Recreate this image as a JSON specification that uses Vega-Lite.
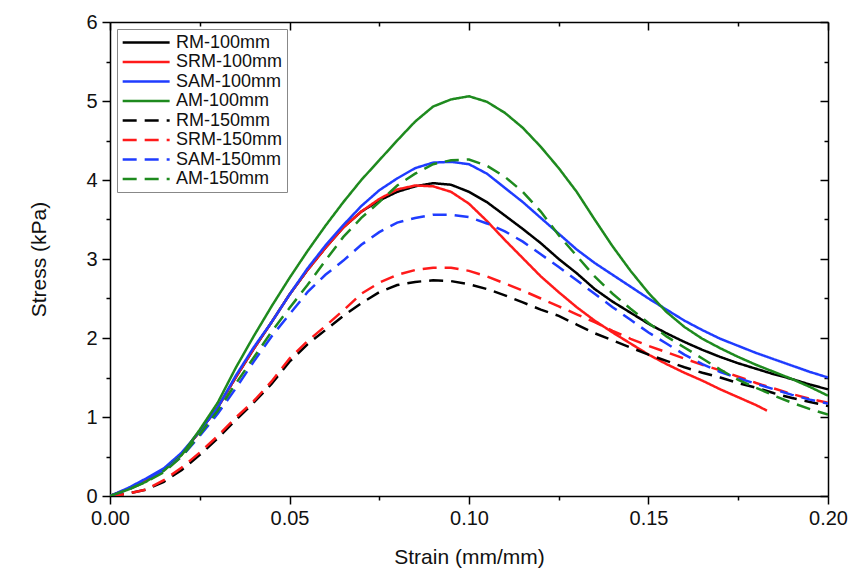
{
  "$schema": "https://vega.github.io/schema/vega-lite/v6.json",
  "width": 718,
  "height": 474,
  "autosize": {"type": "none"},
  "padding": {"left": 110, "top": 22, "right": 31, "bottom": 79},
  "background": "white",
  "config": {
    "font": "Liberation Sans",
    "view": {"stroke": null},
    "axis": {"grid": false, "domainColor": "black", "domainWidth": 1.5, "labelColor": "#111", "titleColor": "#111", "labelFont": "Liberation Sans", "titleFont": "Liberation Sans", "titleFontWeight": "normal"}
  },
  "data": {"values": [
    {"series":"RM-100mm","strain":0,"stress":0},{"series":"RM-100mm","strain":0.005,"stress":0.09},{"series":"RM-100mm","strain":0.01,"stress":0.2},{"series":"RM-100mm","strain":0.015,"stress":0.33},{"series":"RM-100mm","strain":0.02,"stress":0.53},{"series":"RM-100mm","strain":0.025,"stress":0.82},{"series":"RM-100mm","strain":0.03,"stress":1.12},{"series":"RM-100mm","strain":0.035,"stress":1.5},{"series":"RM-100mm","strain":0.04,"stress":1.86},{"series":"RM-100mm","strain":0.045,"stress":2.2},{"series":"RM-100mm","strain":0.05,"stress":2.55},{"series":"RM-100mm","strain":0.055,"stress":2.86},{"series":"RM-100mm","strain":0.06,"stress":3.14},{"series":"RM-100mm","strain":0.065,"stress":3.4},{"series":"RM-100mm","strain":0.07,"stress":3.6},{"series":"RM-100mm","strain":0.075,"stress":3.74},{"series":"RM-100mm","strain":0.08,"stress":3.85},{"series":"RM-100mm","strain":0.085,"stress":3.92},{"series":"RM-100mm","strain":0.09,"stress":3.96},{"series":"RM-100mm","strain":0.095,"stress":3.94},{"series":"RM-100mm","strain":0.1,"stress":3.85},{"series":"RM-100mm","strain":0.105,"stress":3.72},{"series":"RM-100mm","strain":0.11,"stress":3.55},{"series":"RM-100mm","strain":0.115,"stress":3.38},{"series":"RM-100mm","strain":0.12,"stress":3.2},{"series":"RM-100mm","strain":0.125,"stress":3.0},{"series":"RM-100mm","strain":0.13,"stress":2.82},{"series":"RM-100mm","strain":0.135,"stress":2.62},{"series":"RM-100mm","strain":0.14,"stress":2.46},{"series":"RM-100mm","strain":0.145,"stress":2.32},{"series":"RM-100mm","strain":0.15,"stress":2.18},{"series":"RM-100mm","strain":0.155,"stress":2.06},{"series":"RM-100mm","strain":0.16,"stress":1.95},{"series":"RM-100mm","strain":0.165,"stress":1.85},{"series":"RM-100mm","strain":0.17,"stress":1.76},{"series":"RM-100mm","strain":0.175,"stress":1.68},{"series":"RM-100mm","strain":0.18,"stress":1.61},{"series":"RM-100mm","strain":0.185,"stress":1.54},{"series":"RM-100mm","strain":0.19,"stress":1.48},{"series":"RM-100mm","strain":0.195,"stress":1.41},{"series":"RM-100mm","strain":0.2,"stress":1.35},

    {"series":"SRM-100mm","strain":0,"stress":0},{"series":"SRM-100mm","strain":0.005,"stress":0.09},{"series":"SRM-100mm","strain":0.01,"stress":0.2},{"series":"SRM-100mm","strain":0.015,"stress":0.33},{"series":"SRM-100mm","strain":0.02,"stress":0.53},{"series":"SRM-100mm","strain":0.025,"stress":0.82},{"series":"SRM-100mm","strain":0.03,"stress":1.12},{"series":"SRM-100mm","strain":0.035,"stress":1.5},{"series":"SRM-100mm","strain":0.04,"stress":1.86},{"series":"SRM-100mm","strain":0.045,"stress":2.2},{"series":"SRM-100mm","strain":0.05,"stress":2.55},{"series":"SRM-100mm","strain":0.055,"stress":2.86},{"series":"SRM-100mm","strain":0.06,"stress":3.14},{"series":"SRM-100mm","strain":0.065,"stress":3.4},{"series":"SRM-100mm","strain":0.07,"stress":3.6},{"series":"SRM-100mm","strain":0.075,"stress":3.76},{"series":"SRM-100mm","strain":0.08,"stress":3.88},{"series":"SRM-100mm","strain":0.085,"stress":3.93},{"series":"SRM-100mm","strain":0.09,"stress":3.92},{"series":"SRM-100mm","strain":0.095,"stress":3.85},{"series":"SRM-100mm","strain":0.1,"stress":3.7},{"series":"SRM-100mm","strain":0.105,"stress":3.48},{"series":"SRM-100mm","strain":0.11,"stress":3.24},{"series":"SRM-100mm","strain":0.115,"stress":3.01},{"series":"SRM-100mm","strain":0.12,"stress":2.78},{"series":"SRM-100mm","strain":0.125,"stress":2.58},{"series":"SRM-100mm","strain":0.13,"stress":2.39},{"series":"SRM-100mm","strain":0.135,"stress":2.22},{"series":"SRM-100mm","strain":0.14,"stress":2.07},{"series":"SRM-100mm","strain":0.145,"stress":1.93},{"series":"SRM-100mm","strain":0.15,"stress":1.79},{"series":"SRM-100mm","strain":0.155,"stress":1.67},{"series":"SRM-100mm","strain":0.16,"stress":1.56},{"series":"SRM-100mm","strain":0.165,"stress":1.46},{"series":"SRM-100mm","strain":0.17,"stress":1.35},{"series":"SRM-100mm","strain":0.175,"stress":1.25},{"series":"SRM-100mm","strain":0.18,"stress":1.15},{"series":"SRM-100mm","strain":0.183,"stress":1.08},

    {"series":"SAM-100mm","strain":0,"stress":0},{"series":"SAM-100mm","strain":0.005,"stress":0.1},{"series":"SAM-100mm","strain":0.01,"stress":0.22},{"series":"SAM-100mm","strain":0.015,"stress":0.35},{"series":"SAM-100mm","strain":0.02,"stress":0.55},{"series":"SAM-100mm","strain":0.025,"stress":0.82},{"series":"SAM-100mm","strain":0.03,"stress":1.12},{"series":"SAM-100mm","strain":0.035,"stress":1.52},{"series":"SAM-100mm","strain":0.04,"stress":1.88},{"series":"SAM-100mm","strain":0.045,"stress":2.2},{"series":"SAM-100mm","strain":0.05,"stress":2.55},{"series":"SAM-100mm","strain":0.055,"stress":2.88},{"series":"SAM-100mm","strain":0.06,"stress":3.17},{"series":"SAM-100mm","strain":0.065,"stress":3.43},{"series":"SAM-100mm","strain":0.07,"stress":3.67},{"series":"SAM-100mm","strain":0.075,"stress":3.87},{"series":"SAM-100mm","strain":0.08,"stress":4.02},{"series":"SAM-100mm","strain":0.085,"stress":4.15},{"series":"SAM-100mm","strain":0.09,"stress":4.22},{"series":"SAM-100mm","strain":0.095,"stress":4.23},{"series":"SAM-100mm","strain":0.1,"stress":4.2},{"series":"SAM-100mm","strain":0.105,"stress":4.08},{"series":"SAM-100mm","strain":0.11,"stress":3.9},{"series":"SAM-100mm","strain":0.115,"stress":3.72},{"series":"SAM-100mm","strain":0.12,"stress":3.52},{"series":"SAM-100mm","strain":0.125,"stress":3.32},{"series":"SAM-100mm","strain":0.13,"stress":3.12},{"series":"SAM-100mm","strain":0.135,"stress":2.95},{"series":"SAM-100mm","strain":0.14,"stress":2.8},{"series":"SAM-100mm","strain":0.145,"stress":2.65},{"series":"SAM-100mm","strain":0.15,"stress":2.5},{"series":"SAM-100mm","strain":0.155,"stress":2.36},{"series":"SAM-100mm","strain":0.16,"stress":2.22},{"series":"SAM-100mm","strain":0.165,"stress":2.1},{"series":"SAM-100mm","strain":0.17,"stress":1.99},{"series":"SAM-100mm","strain":0.175,"stress":1.9},{"series":"SAM-100mm","strain":0.18,"stress":1.81},{"series":"SAM-100mm","strain":0.185,"stress":1.73},{"series":"SAM-100mm","strain":0.19,"stress":1.65},{"series":"SAM-100mm","strain":0.195,"stress":1.57},{"series":"SAM-100mm","strain":0.2,"stress":1.5},

    {"series":"AM-100mm","strain":0,"stress":0},{"series":"AM-100mm","strain":0.005,"stress":0.08},{"series":"AM-100mm","strain":0.01,"stress":0.18},{"series":"AM-100mm","strain":0.015,"stress":0.32},{"series":"AM-100mm","strain":0.02,"stress":0.52},{"series":"AM-100mm","strain":0.025,"stress":0.84},{"series":"AM-100mm","strain":0.03,"stress":1.18},{"series":"AM-100mm","strain":0.035,"stress":1.62},{"series":"AM-100mm","strain":0.04,"stress":2.02},{"series":"AM-100mm","strain":0.045,"stress":2.4},{"series":"AM-100mm","strain":0.05,"stress":2.76},{"series":"AM-100mm","strain":0.055,"stress":3.1},{"series":"AM-100mm","strain":0.06,"stress":3.42},{"series":"AM-100mm","strain":0.065,"stress":3.72},{"series":"AM-100mm","strain":0.07,"stress":4.0},{"series":"AM-100mm","strain":0.075,"stress":4.25},{"series":"AM-100mm","strain":0.08,"stress":4.5},{"series":"AM-100mm","strain":0.085,"stress":4.74},{"series":"AM-100mm","strain":0.09,"stress":4.93},{"series":"AM-100mm","strain":0.095,"stress":5.02},{"series":"AM-100mm","strain":0.1,"stress":5.06},{"series":"AM-100mm","strain":0.105,"stress":4.99},{"series":"AM-100mm","strain":0.11,"stress":4.85},{"series":"AM-100mm","strain":0.115,"stress":4.66},{"series":"AM-100mm","strain":0.12,"stress":4.42},{"series":"AM-100mm","strain":0.125,"stress":4.15},{"series":"AM-100mm","strain":0.13,"stress":3.85},{"series":"AM-100mm","strain":0.135,"stress":3.5},{"series":"AM-100mm","strain":0.14,"stress":3.16},{"series":"AM-100mm","strain":0.145,"stress":2.85},{"series":"AM-100mm","strain":0.15,"stress":2.57},{"series":"AM-100mm","strain":0.155,"stress":2.33},{"series":"AM-100mm","strain":0.16,"stress":2.14},{"series":"AM-100mm","strain":0.165,"stress":1.99},{"series":"AM-100mm","strain":0.17,"stress":1.87},{"series":"AM-100mm","strain":0.175,"stress":1.76},{"series":"AM-100mm","strain":0.18,"stress":1.66},{"series":"AM-100mm","strain":0.185,"stress":1.57},{"series":"AM-100mm","strain":0.19,"stress":1.48},{"series":"AM-100mm","strain":0.195,"stress":1.38},{"series":"AM-100mm","strain":0.2,"stress":1.27},

    {"series":"RM-150mm","strain":0,"stress":0},{"series":"RM-150mm","strain":0.005,"stress":0.03},{"series":"RM-150mm","strain":0.01,"stress":0.08},{"series":"RM-150mm","strain":0.015,"stress":0.18},{"series":"RM-150mm","strain":0.02,"stress":0.33},{"series":"RM-150mm","strain":0.025,"stress":0.52},{"series":"RM-150mm","strain":0.03,"stress":0.73},{"series":"RM-150mm","strain":0.035,"stress":0.96},{"series":"RM-150mm","strain":0.04,"stress":1.18},{"series":"RM-150mm","strain":0.045,"stress":1.42},{"series":"RM-150mm","strain":0.05,"stress":1.7},{"series":"RM-150mm","strain":0.055,"stress":1.92},{"series":"RM-150mm","strain":0.06,"stress":2.1},{"series":"RM-150mm","strain":0.065,"stress":2.28},{"series":"RM-150mm","strain":0.07,"stress":2.44},{"series":"RM-150mm","strain":0.075,"stress":2.58},{"series":"RM-150mm","strain":0.08,"stress":2.67},{"series":"RM-150mm","strain":0.085,"stress":2.71},{"series":"RM-150mm","strain":0.09,"stress":2.73},{"series":"RM-150mm","strain":0.095,"stress":2.72},{"series":"RM-150mm","strain":0.1,"stress":2.68},{"series":"RM-150mm","strain":0.105,"stress":2.62},{"series":"RM-150mm","strain":0.11,"stress":2.54},{"series":"RM-150mm","strain":0.115,"stress":2.45},{"series":"RM-150mm","strain":0.12,"stress":2.36},{"series":"RM-150mm","strain":0.125,"stress":2.28},{"series":"RM-150mm","strain":0.13,"stress":2.17},{"series":"RM-150mm","strain":0.135,"stress":2.06},{"series":"RM-150mm","strain":0.14,"stress":1.97},{"series":"RM-150mm","strain":0.145,"stress":1.88},{"series":"RM-150mm","strain":0.15,"stress":1.79},{"series":"RM-150mm","strain":0.155,"stress":1.71},{"series":"RM-150mm","strain":0.16,"stress":1.63},{"series":"RM-150mm","strain":0.165,"stress":1.56},{"series":"RM-150mm","strain":0.17,"stress":1.5},{"series":"RM-150mm","strain":0.175,"stress":1.43},{"series":"RM-150mm","strain":0.18,"stress":1.37},{"series":"RM-150mm","strain":0.185,"stress":1.3},{"series":"RM-150mm","strain":0.19,"stress":1.24},{"series":"RM-150mm","strain":0.195,"stress":1.19},{"series":"RM-150mm","strain":0.2,"stress":1.14},

    {"series":"SRM-150mm","strain":0,"stress":0},{"series":"SRM-150mm","strain":0.005,"stress":0.03},{"series":"SRM-150mm","strain":0.01,"stress":0.08},{"series":"SRM-150mm","strain":0.015,"stress":0.2},{"series":"SRM-150mm","strain":0.02,"stress":0.36},{"series":"SRM-150mm","strain":0.025,"stress":0.55},{"series":"SRM-150mm","strain":0.03,"stress":0.76},{"series":"SRM-150mm","strain":0.035,"stress":0.99},{"series":"SRM-150mm","strain":0.04,"stress":1.2},{"series":"SRM-150mm","strain":0.045,"stress":1.45},{"series":"SRM-150mm","strain":0.05,"stress":1.74},{"series":"SRM-150mm","strain":0.055,"stress":1.96},{"series":"SRM-150mm","strain":0.06,"stress":2.15},{"series":"SRM-150mm","strain":0.065,"stress":2.35},{"series":"SRM-150mm","strain":0.07,"stress":2.56},{"series":"SRM-150mm","strain":0.075,"stress":2.7},{"series":"SRM-150mm","strain":0.08,"stress":2.8},{"series":"SRM-150mm","strain":0.085,"stress":2.86},{"series":"SRM-150mm","strain":0.09,"stress":2.89},{"series":"SRM-150mm","strain":0.095,"stress":2.89},{"series":"SRM-150mm","strain":0.1,"stress":2.85},{"series":"SRM-150mm","strain":0.105,"stress":2.78},{"series":"SRM-150mm","strain":0.11,"stress":2.69},{"series":"SRM-150mm","strain":0.115,"stress":2.6},{"series":"SRM-150mm","strain":0.12,"stress":2.5},{"series":"SRM-150mm","strain":0.125,"stress":2.4},{"series":"SRM-150mm","strain":0.13,"stress":2.3},{"series":"SRM-150mm","strain":0.135,"stress":2.2},{"series":"SRM-150mm","strain":0.14,"stress":2.09},{"series":"SRM-150mm","strain":0.145,"stress":1.99},{"series":"SRM-150mm","strain":0.15,"stress":1.9},{"series":"SRM-150mm","strain":0.155,"stress":1.82},{"series":"SRM-150mm","strain":0.16,"stress":1.74},{"series":"SRM-150mm","strain":0.165,"stress":1.66},{"series":"SRM-150mm","strain":0.17,"stress":1.59},{"series":"SRM-150mm","strain":0.175,"stress":1.51},{"series":"SRM-150mm","strain":0.18,"stress":1.43},{"series":"SRM-150mm","strain":0.185,"stress":1.36},{"series":"SRM-150mm","strain":0.19,"stress":1.29},{"series":"SRM-150mm","strain":0.195,"stress":1.23},{"series":"SRM-150mm","strain":0.2,"stress":1.18},

    {"series":"SAM-150mm","strain":0,"stress":0},{"series":"SAM-150mm","strain":0.005,"stress":0.08},{"series":"SAM-150mm","strain":0.01,"stress":0.2},{"series":"SAM-150mm","strain":0.015,"stress":0.32},{"series":"SAM-150mm","strain":0.02,"stress":0.5},{"series":"SAM-150mm","strain":0.025,"stress":0.76},{"series":"SAM-150mm","strain":0.03,"stress":1.04},{"series":"SAM-150mm","strain":0.035,"stress":1.36},{"series":"SAM-150mm","strain":0.04,"stress":1.7},{"series":"SAM-150mm","strain":0.045,"stress":2.02},{"series":"SAM-150mm","strain":0.05,"stress":2.3},{"series":"SAM-150mm","strain":0.055,"stress":2.58},{"series":"SAM-150mm","strain":0.06,"stress":2.8},{"series":"SAM-150mm","strain":0.065,"stress":2.98},{"series":"SAM-150mm","strain":0.07,"stress":3.18},{"series":"SAM-150mm","strain":0.075,"stress":3.34},{"series":"SAM-150mm","strain":0.08,"stress":3.46},{"series":"SAM-150mm","strain":0.085,"stress":3.52},{"series":"SAM-150mm","strain":0.09,"stress":3.56},{"series":"SAM-150mm","strain":0.095,"stress":3.56},{"series":"SAM-150mm","strain":0.1,"stress":3.53},{"series":"SAM-150mm","strain":0.105,"stress":3.45},{"series":"SAM-150mm","strain":0.11,"stress":3.35},{"series":"SAM-150mm","strain":0.115,"stress":3.22},{"series":"SAM-150mm","strain":0.12,"stress":3.06},{"series":"SAM-150mm","strain":0.125,"stress":2.9},{"series":"SAM-150mm","strain":0.13,"stress":2.73},{"series":"SAM-150mm","strain":0.135,"stress":2.56},{"series":"SAM-150mm","strain":0.14,"stress":2.39},{"series":"SAM-150mm","strain":0.145,"stress":2.23},{"series":"SAM-150mm","strain":0.15,"stress":2.07},{"series":"SAM-150mm","strain":0.155,"stress":1.93},{"series":"SAM-150mm","strain":0.16,"stress":1.79},{"series":"SAM-150mm","strain":0.165,"stress":1.67},{"series":"SAM-150mm","strain":0.17,"stress":1.57},{"series":"SAM-150mm","strain":0.175,"stress":1.49},{"series":"SAM-150mm","strain":0.18,"stress":1.42},{"series":"SAM-150mm","strain":0.185,"stress":1.35},{"series":"SAM-150mm","strain":0.19,"stress":1.28},{"series":"SAM-150mm","strain":0.195,"stress":1.22},{"series":"SAM-150mm","strain":0.2,"stress":1.17},

    {"series":"AM-150mm","strain":0,"stress":0},{"series":"AM-150mm","strain":0.005,"stress":0.08},{"series":"AM-150mm","strain":0.01,"stress":0.18},{"series":"AM-150mm","strain":0.015,"stress":0.3},{"series":"AM-150mm","strain":0.02,"stress":0.5},{"series":"AM-150mm","strain":0.025,"stress":0.78},{"series":"AM-150mm","strain":0.03,"stress":1.08},{"series":"AM-150mm","strain":0.035,"stress":1.42},{"series":"AM-150mm","strain":0.04,"stress":1.75},{"series":"AM-150mm","strain":0.045,"stress":2.08},{"series":"AM-150mm","strain":0.05,"stress":2.38},{"series":"AM-150mm","strain":0.055,"stress":2.67},{"series":"AM-150mm","strain":0.06,"stress":2.98},{"series":"AM-150mm","strain":0.065,"stress":3.28},{"series":"AM-150mm","strain":0.07,"stress":3.52},{"series":"AM-150mm","strain":0.075,"stress":3.72},{"series":"AM-150mm","strain":0.08,"stress":3.93},{"series":"AM-150mm","strain":0.085,"stress":4.08},{"series":"AM-150mm","strain":0.09,"stress":4.2},{"series":"AM-150mm","strain":0.095,"stress":4.25},{"series":"AM-150mm","strain":0.1,"stress":4.26},{"series":"AM-150mm","strain":0.105,"stress":4.18},{"series":"AM-150mm","strain":0.11,"stress":4.04},{"series":"AM-150mm","strain":0.115,"stress":3.85},{"series":"AM-150mm","strain":0.12,"stress":3.6},{"series":"AM-150mm","strain":0.125,"stress":3.3},{"series":"AM-150mm","strain":0.13,"stress":3.04},{"series":"AM-150mm","strain":0.135,"stress":2.78},{"series":"AM-150mm","strain":0.14,"stress":2.56},{"series":"AM-150mm","strain":0.145,"stress":2.37},{"series":"AM-150mm","strain":0.15,"stress":2.19},{"series":"AM-150mm","strain":0.155,"stress":2.02},{"series":"AM-150mm","strain":0.16,"stress":1.88},{"series":"AM-150mm","strain":0.165,"stress":1.74},{"series":"AM-150mm","strain":0.17,"stress":1.6},{"series":"AM-150mm","strain":0.175,"stress":1.47},{"series":"AM-150mm","strain":0.18,"stress":1.37},{"series":"AM-150mm","strain":0.185,"stress":1.27},{"series":"AM-150mm","strain":0.19,"stress":1.18},{"series":"AM-150mm","strain":0.195,"stress":1.1},{"series":"AM-150mm","strain":0.2,"stress":1.03}
  ]},
  "resolve": {"axis": {"x": "independent", "y": "independent"}},
  "layer": [
    {
      "mark": {"type": "line", "strokeWidth": 2.5, "strokeCap": "butt", "clip": true},
      "encoding": {
        "x": {"field": "strain", "type": "quantitative",
          "scale": {"domain": [0, 0.2], "nice": false, "zero": false},
          "axis": {"orient": "bottom", "title": "Strain (mm/mm)", "titleFontSize": 21, "titlePadding": 18,
            "values": [0, 0.05, 0.1, 0.15, 0.2], "format": ".2f", "ticks": true, "tickColor": "#000000", "tickWidth": 1.5,
            "labelFontSize": 20, "labelPadding": 4, "labelFlush": false, "tickSize": 8}},
        "y": {"field": "stress", "type": "quantitative",
          "scale": {"domain": [0, 6], "nice": false},
          "axis": {"orient": "left", "title": "Stress (kPa)", "titleFontSize": 21, "titlePadding": 36,
            "values": [0, 1, 2, 3, 4, 5, 6], "format": "d", "ticks": true, "tickColor": "#000000", "tickWidth": 1.5,
            "labelFontSize": 20, "labelPadding": 5, "labelFlush": false, "tickSize": 8}},
        "color": {"field": "series", "type": "nominal",
          "scale": {"domain": ["RM-100mm", "SRM-100mm", "SAM-100mm", "AM-100mm", "RM-150mm", "SRM-150mm", "SAM-150mm", "AM-150mm"],
            "range": ["#000000", "#ff1a1a", "#1f3cff", "#1e8a1e", "#000000", "#ff1a1a", "#1f3cff", "#1e8a1e"]},
          "legend": {"title": null, "orient": "top-left", "offset": 7, "symbolType": "M-1,0H5", "symbolSize": 245, "symbolStrokeWidth": 2.5,
            "labelFontSize": 18, "labelColor": "#111", "labelOffset": 36, "rowPadding": 0.5, "strokeColor": "#888", "fillColor": "white", "padding": 4}},
        "strokeDash": {"field": "series", "type": "nominal",
          "scale": {"domain": ["RM-100mm", "SRM-100mm", "SAM-100mm", "AM-100mm", "RM-150mm", "SRM-150mm", "SAM-150mm", "AM-150mm"],
            "range": [[1, 0], [1, 0], [1, 0], [1, 0], [14, 8], [14, 8], [14, 8], [14, 8]]},
          "legend": {"title": null}}
      }
    },
    {
      "mark": {"type": "point", "opacity": 0},
      "encoding": {
        "x": {"field": "strain", "type": "quantitative",
          "axis": {"orient": "top", "title": null, "labels": false, "values": [0, 0.05, 0.1, 0.15, 0.2], "ticks": true, "tickColor": "#000000", "tickWidth": 1.5, "tickSize": -8}},
        "y": {"field": "stress", "type": "quantitative",
          "axis": {"orient": "right", "title": null, "labels": false, "values": [0, 1, 2, 3, 4, 5, 6], "ticks": true, "tickColor": "#000000", "tickWidth": 1.5, "tickSize": -8}}
      }
    },
    {
      "mark": {"type": "point", "opacity": 0},
      "encoding": {
        "x": {"field": "strain", "type": "quantitative",
          "axis": {"orient": "bottom", "title": null, "labels": false, "domain": false, "values": [0.025, 0.075, 0.125, 0.175], "ticks": true, "tickColor": "#000000", "tickWidth": 1.5, "tickSize": 4}},
        "y": {"field": "stress", "type": "quantitative",
          "axis": {"orient": "left", "title": null, "labels": false, "domain": false, "values": [0.5, 1.5, 2.5, 3.5, 4.5, 5.5], "ticks": true, "tickColor": "#000000", "tickWidth": 1.5, "tickSize": 4}}
      }
    },
    {
      "mark": {"type": "point", "opacity": 0},
      "encoding": {
        "x": {"field": "strain", "type": "quantitative",
          "axis": {"orient": "top", "title": null, "labels": false, "domain": false, "values": [0.025, 0.075, 0.125, 0.175], "ticks": true, "tickColor": "#000000", "tickWidth": 1.5, "tickSize": -4}},
        "y": {"field": "stress", "type": "quantitative",
          "axis": {"orient": "right", "title": null, "labels": false, "domain": false, "values": [0.5, 1.5, 2.5, 3.5, 4.5, 5.5], "ticks": true, "tickColor": "#000000", "tickWidth": 1.5, "tickSize": -4}}
      }
    }
  ]
}
